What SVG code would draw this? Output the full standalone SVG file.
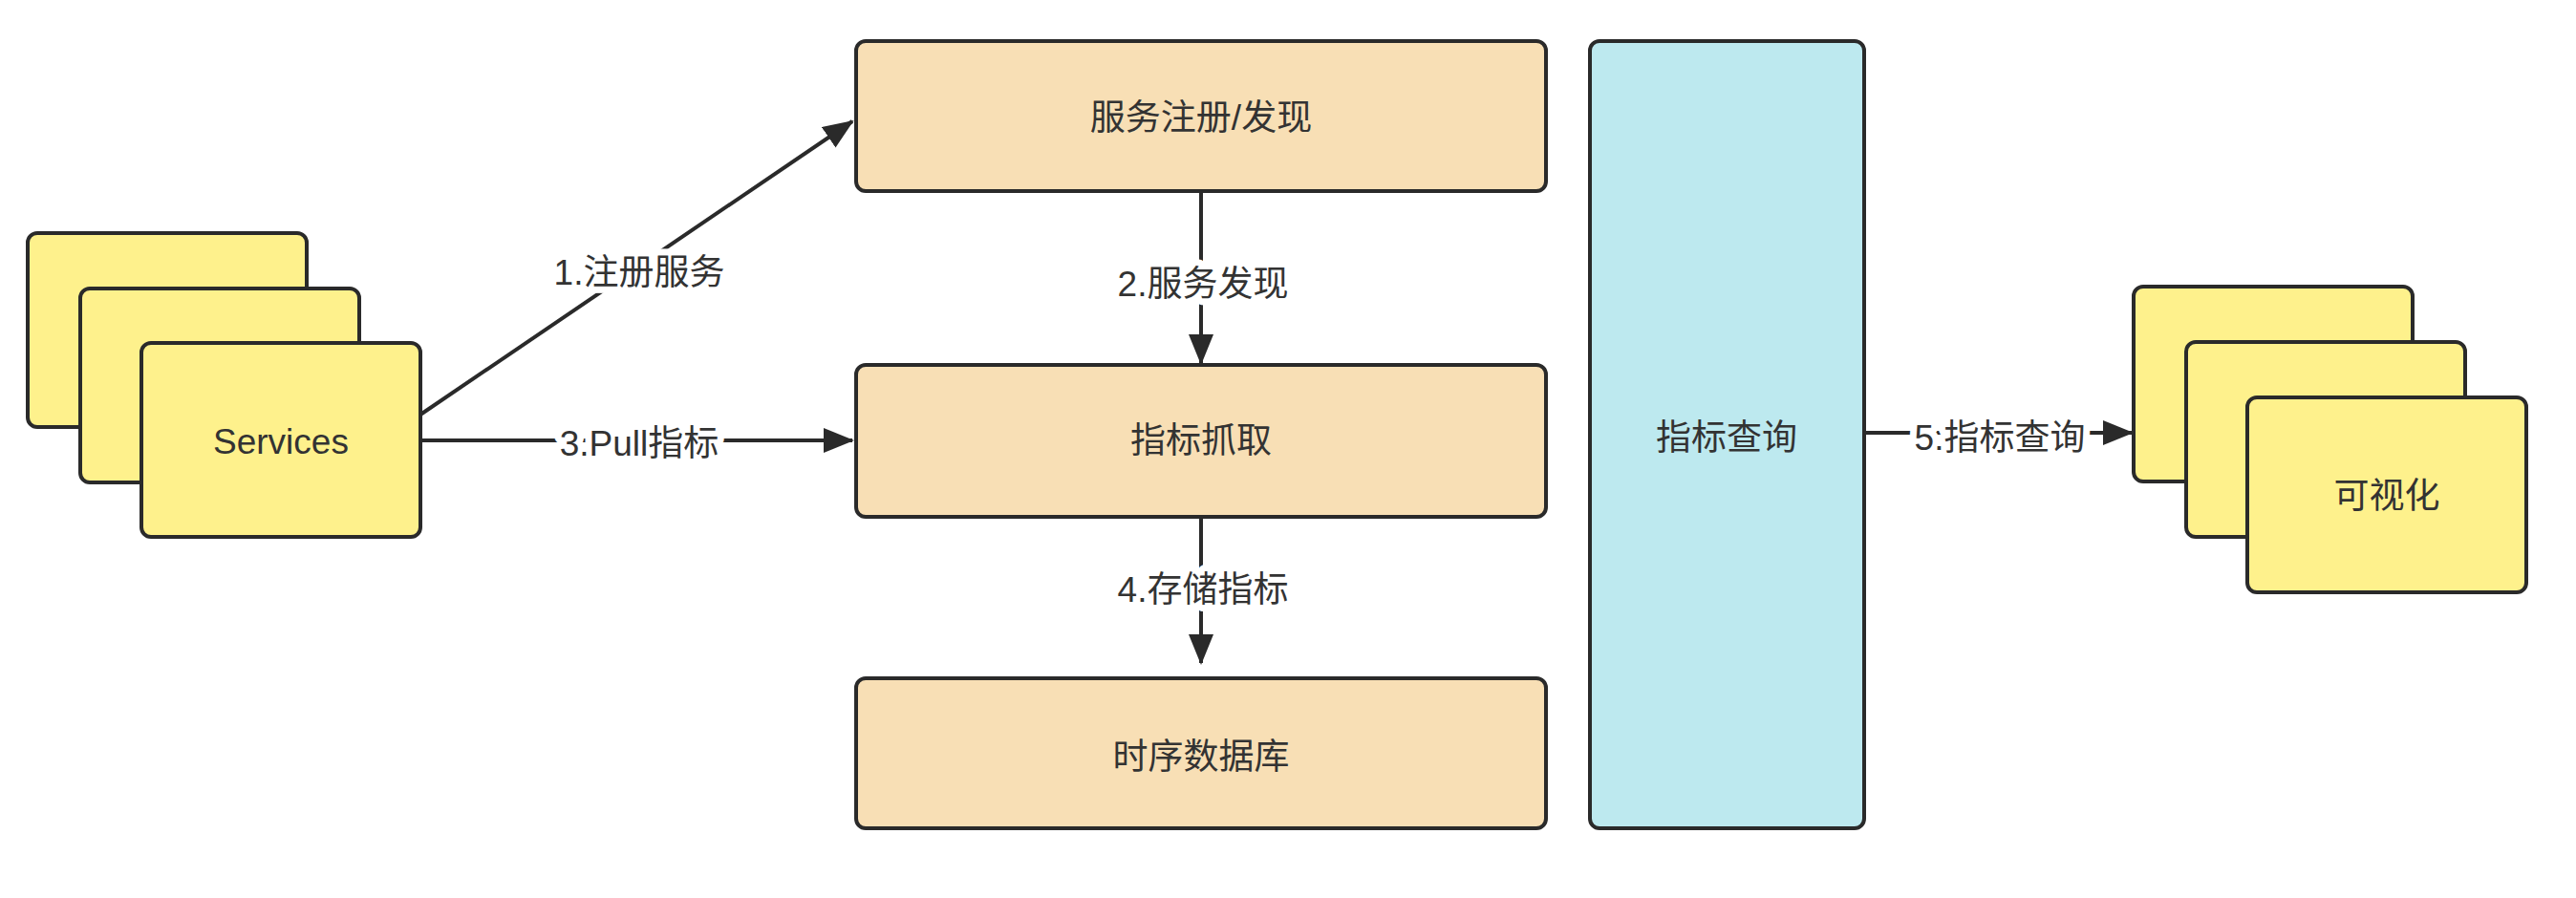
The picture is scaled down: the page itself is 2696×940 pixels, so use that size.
<svg xmlns="http://www.w3.org/2000/svg" width="2696" height="940" viewBox="0 0 2696 940">
<style>
.box{stroke:#2a2a2a;stroke-width:4}
.yel{fill:#FEF18C}
.peach{fill:#F8DFB5}
.cyan{fill:#BDE9EF}
.t{font-family:"Liberation Sans","Noto Sans CJK SC",sans-serif;font-size:37px;fill:#333;text-anchor:middle;dominant-baseline:central}
.lbl{font-family:"Liberation Sans","Noto Sans CJK SC",sans-serif;font-size:37px;fill:#333;text-anchor:middle;dominant-baseline:central;stroke:#fff;stroke-width:14;paint-order:stroke;stroke-linejoin:round}
.edge{stroke:#2a2a2a;stroke-width:4;fill:none}
</style>
<defs>
<marker id="ah" markerUnits="userSpaceOnUse" markerWidth="32" markerHeight="26" refX="30" refY="13" orient="auto">
<path d="M0,0 L32,13 L0,26 Z" fill="#2a2a2a"/>
</marker>
</defs>
<rect width="2696" height="940" fill="#fff"/>
<g id="connectors">
<line class="edge" x1="440" y1="434" x2="892" y2="127" marker-end="url(#ah)"/>
<line class="edge" x1="440" y1="461" x2="892" y2="461" marker-end="url(#ah)"/>
<line class="edge" x1="1257" y1="200" x2="1257" y2="380" marker-end="url(#ah)"/>
<line class="edge" x1="1257" y1="541" x2="1257" y2="694" marker-end="url(#ah)"/>
<line class="edge" x1="1951" y1="453" x2="2231" y2="453" marker-end="url(#ah)"/>
<text class="lbl" x="669" y="285">1.注册服务</text>
<text class="lbl" x="669" y="464">3.Pull指标</text>
<text class="lbl" x="1259" y="297">2.服务发现</text>
<text class="lbl" x="1259" y="617">4.存储指标</text>
<text class="lbl" x="2093" y="458">5.指标查询</text>
</g>
<g id="services">
<rect class="box yel" x="29" y="244" width="292" height="203" rx="10"/>
<rect class="box yel" x="84" y="302" width="292" height="203" rx="10"/>
<rect class="box yel" x="148" y="359" width="292" height="203" rx="10"/>
<text class="t" x="294" y="462">Services</text>
</g>
<g id="registry">
<rect class="box peach" x="896" y="43" width="722" height="157" rx="10"/>
<text class="t" x="1257" y="123">服务注册/发现</text>
</g>
<g id="scrape">
<rect class="box peach" x="896" y="382" width="722" height="159" rx="10"/>
<text class="t" x="1257" y="461">指标抓取</text>
</g>
<g id="tsdb">
<rect class="box peach" x="896" y="710" width="722" height="157" rx="10"/>
<text class="t" x="1257" y="792">时序数据库</text>
</g>
<g id="query">
<rect class="box cyan" x="1664" y="43" width="287" height="824" rx="10"/>
<text class="t" x="1807" y="458">指标查询</text>
</g>
<g id="visual">
<rect class="box yel" x="2233" y="300" width="292" height="204" rx="10"/>
<rect class="box yel" x="2288" y="358" width="292" height="204" rx="10"/>
<rect class="box yel" x="2352" y="416" width="292" height="204" rx="10"/>
<text class="t" x="2498" y="519">可视化</text>
</g>
</svg>
